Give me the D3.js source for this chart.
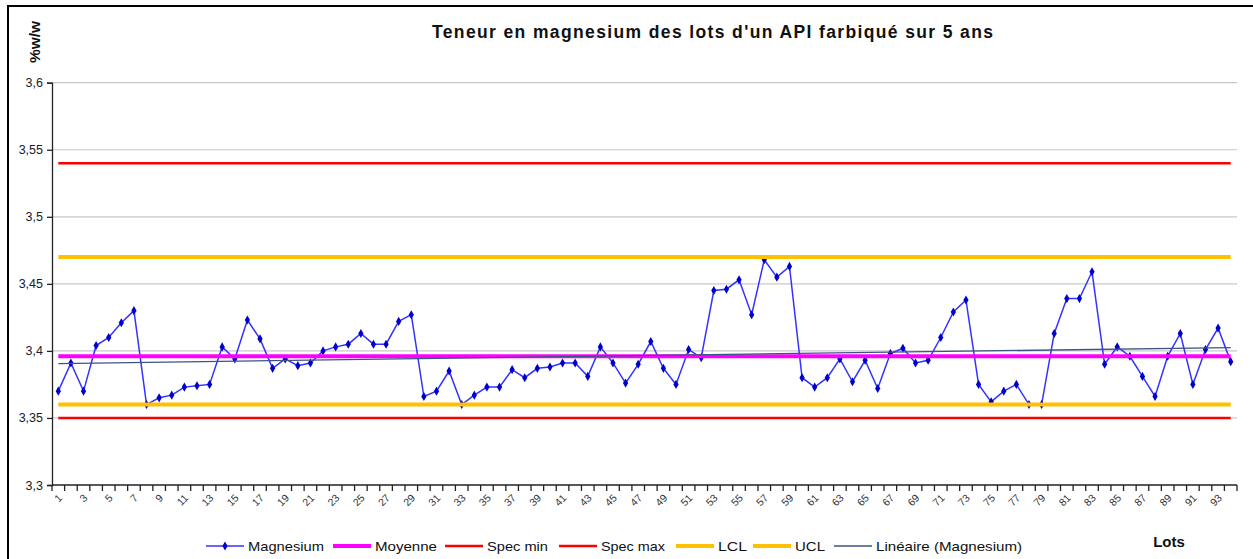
<!DOCTYPE html>
<html>
<head>
  <meta charset="utf-8" />
  <title>Teneur en magnesium</title>
  <script src="https://cdn.jsdelivr.net/npm/d3@7"></script>
  <style>
    body{ margin:0; background:white; }
    text{ font-family:"Liberation Sans", Arial, sans-serif; }
  </style>
</head>
<body>
  <script>
    // - - - - - DATA - - - - - //
    var lots = d3.range(1, 95);
    var magnesium = [
      3.370, 3.391, 3.370, 3.404, 3.410, 3.421, 3.430, 3.360, 3.365, 3.367,
      3.373, 3.374, 3.375, 3.403, 3.394, 3.423, 3.409, 3.387, 3.394, 3.389,
      3.391, 3.400, 3.403, 3.405, 3.413, 3.405, 3.405, 3.422, 3.427, 3.366,
      3.370, 3.385, 3.360, 3.367, 3.373, 3.373, 3.386, 3.380, 3.387, 3.388,
      3.391, 3.391, 3.381, 3.403, 3.391, 3.376, 3.390, 3.407, 3.387, 3.375,
      3.401, 3.395, 3.445, 3.446, 3.453, 3.427, 3.468, 3.455, 3.463, 3.380,
      3.373, 3.380, 3.394, 3.377, 3.393, 3.372, 3.398, 3.402, 3.391, 3.393,
      3.410, 3.429, 3.438, 3.375, 3.362, 3.370, 3.375, 3.360, 3.360, 3.413,
      3.439, 3.439, 3.459, 3.390, 3.403, 3.396, 3.381, 3.366, 3.396, 3.413,
      3.375, 3.401, 3.417, 3.392
    ];
    var moyenne = 3.396;
    var specMin = 3.35;
    var specMax = 3.54;
    var lcl = 3.36;
    var ucl = 3.47;
    var yTicks = [3.3, 3.35, 3.4, 3.45, 3.5, 3.55, 3.6];
    var xLabels = lots.filter(function(d){ return d % 2 == 1; });

    var legendItems = [
      {name:"Magnesium", color:"#3333ff", width:1.5, marker:true},
      {name:"Moyenne", color:"#ff00ff", width:4},
      {name:"Spec min", color:"#ff0000", width:2.5},
      {name:"Spec max", color:"#ff0000", width:2.5},
      {name:"LCL", color:"#ffc000", width:4},
      {name:"UCL", color:"#ffc000", width:4},
      {name:"Linéaire (Magnesium)", color:"#3b5583", width:1.3}
    ];

    // - - - - - CANVAS - - - - - //
    var w = 1253, h = 559;
    var svg = d3.select("body").append("svg")
      .attr("width", w).attr("height", h);

    svg.append("rect")
      .attr("x", 8).attr("y", 6)
      .attr("width", w + 20).attr("height", h + 20)
      .attr("fill", "white")
      .attr("stroke", "black")
      .attr("stroke-width", 2);

    // - - - - - SCALES - - - - - //
    var x = d3.scaleBand().domain(lots).range([52, 1237]).padding(0);
    var cx = function(d){ return x(d) + x.bandwidth()/2; };
    var y = d3.scaleLinear().domain([3.3, 3.6]).range([485, 82.7]);

    // gridlines
    svg.append("g").selectAll("line")
      .data(yTicks.slice(1))
      .enter().append("line")
      .attr("x1", 52).attr("x2", 1237)
      .attr("y1", function(d){ return y(d); })
      .attr("y2", function(d){ return y(d); })
      .attr("stroke", "#c8c8c8")
      .attr("stroke-width", 1.2);

    // y axis
    var yAxis = d3.axisLeft(y)
      .tickValues(yTicks)
      .tickSize(5)
      .tickFormat(function(d){ return String(+d.toFixed(2)).replace(".", ","); });
    var gy = svg.append("g").attr("transform", "translate(52,0)").call(yAxis);
    gy.select(".domain").attr("stroke", "#222").attr("stroke-width", 1.3);
    gy.selectAll(".tick line").attr("stroke", "#222").attr("stroke-width", 1.3);
    gy.selectAll(".tick text")
      .attr("x", -9)
      .attr("font-size", "12.5px")
      .attr("font-family", "Liberation Sans, Arial, sans-serif")
      .attr("fill", "#1a1a2a");

    // x axis
    var gx = svg.append("g");
    gx.append("line")
      .attr("x1", 52).attr("x2", 1237)
      .attr("y1", 485).attr("y2", 485)
      .attr("stroke", "#222").attr("stroke-width", 1.3);
    gx.selectAll("line.tk")
      .data(lots.concat([95]))
      .enter().append("line")
      .attr("class", "tk")
      .attr("x1", function(d){ return d == 95 ? 1237 : x(d); })
      .attr("x2", function(d){ return d == 95 ? 1237 : x(d); })
      .attr("y1", 485).attr("y2", 491)
      .attr("stroke", "#222").attr("stroke-width", 1.3);
    gx.selectAll("text")
      .data(xLabels)
      .enter().append("text")
      .attr("transform", function(d){
        return "translate(" + (cx(d) + 2) + ",496) rotate(-45)";
      })
      .attr("text-anchor", "end")
      .attr("dy", "0.35em")
      .attr("font-size", "10.5px")
      .attr("fill", "#333")
      .text(function(d){ return d; });

    // - - - - - SERIES - - - - - //
    var line = d3.line()
      .x(function(d, i){ return cx(lots[i]); })
      .y(function(d){ return y(d); });

    svg.append("path")
      .datum(magnesium)
      .attr("d", line)
      .attr("fill", "none")
      .attr("stroke", "#3333ff")
      .attr("stroke-width", 1.5);

    svg.append("g").selectAll("path")
      .data(magnesium)
      .enter().append("path")
      .attr("d", d3.symbol().type(d3.symbolDiamond).size(24))
      .attr("transform", function(d, i){
        return "translate(" + cx(lots[i]) + "," + y(d) + ")";
      })
      .attr("fill", "#0000cc");

    var flat = function(v, color, width){
      svg.append("line")
        .attr("x1", cx(lots[0])).attr("x2", cx(lots[lots.length-1]))
        .attr("y1", y(v)).attr("y2", y(v))
        .attr("stroke", color)
        .attr("stroke-width", width);
    };
    flat(moyenne, "#ff00ff", 4);
    flat(specMin, "#ff0000", 2.5);
    flat(specMax, "#ff0000", 2.5);
    flat(lcl, "#ffc000", 4);
    flat(ucl, "#ffc000", 4);

    // linear trend (least squares on Magnesium)
    var mx = d3.mean(lots), my = d3.mean(magnesium);
    var sxy = d3.sum(lots, function(d, i){ return (d - mx) * (magnesium[i] - my); });
    var sxx = d3.sum(lots, function(d){ return (d - mx) * (d - mx); });
    var slope = sxy / sxx, icpt = my - slope * mx;
    var first = lots[0], last = lots[lots.length-1];
    svg.append("line")
      .attr("x1", cx(first)).attr("y1", y(icpt + slope * first))
      .attr("x2", cx(last)).attr("y2", y(icpt + slope * last))
      .attr("stroke", "#3b5583")
      .attr("stroke-width", 1.3);

    // - - - - - TITLES - - - - - //
    svg.append("text")
      .attr("x", 432).attr("y", 38)
      .attr("font-size", "17.5px")
      .attr("font-weight", "bold")
      .attr("fill", "#111")
      .attr("textLength", 561)
      .attr("lengthAdjust", "spacing")
      .text("Teneur en magnesium des lots d'un API farbiqué sur 5 ans");

    svg.append("text")
      .attr("transform", "translate(40,63) rotate(-90)")
      .attr("font-size", "15px")
      .attr("font-weight", "bold")
      .attr("fill", "#111")
      .attr("textLength", 42)
      .attr("lengthAdjust", "spacingAndGlyphs")
      .text("%w/w");

    svg.append("text")
      .attr("x", 1169).attr("y", 547)
      .attr("text-anchor", "middle")
      .attr("font-size", "15px")
      .attr("font-weight", "bold")
      .attr("fill", "#111")
      .text("Lots");

    // - - - - - LEGEND - - - - - //
    var legendX = [206, 333, 445, 559, 676, 753, 834];
    var legendW = [76, 62, 61, 64, 29, 30, 146];
    var lg = svg.append("g").selectAll("g")
      .data(legendItems)
      .enter().append("g")
      .attr("transform", function(d, i){ return "translate(" + legendX[i] + ",546)"; });
    lg.append("line")
      .attr("x1", 0).attr("x2", 38)
      .attr("stroke", function(d){ return d.color; })
      .attr("stroke-width", function(d){ return d.width; });
    lg.filter(function(d){ return d.marker; })
      .append("path")
      .attr("d", d3.symbol().type(d3.symbolDiamond).size(24))
      .attr("transform", "translate(19,0)")
      .attr("fill", "#0000cc");
    lg.append("text")
      .attr("x", 42).attr("dy", "0.35em")
      .attr("font-size", "13.5px")
      .attr("fill", "#111")
      .attr("textLength", function(d, i){ return legendW[i]; })
      .attr("lengthAdjust", "spacingAndGlyphs")
      .text(function(d){ return d.name; });
  </script>
</body>
</html>
